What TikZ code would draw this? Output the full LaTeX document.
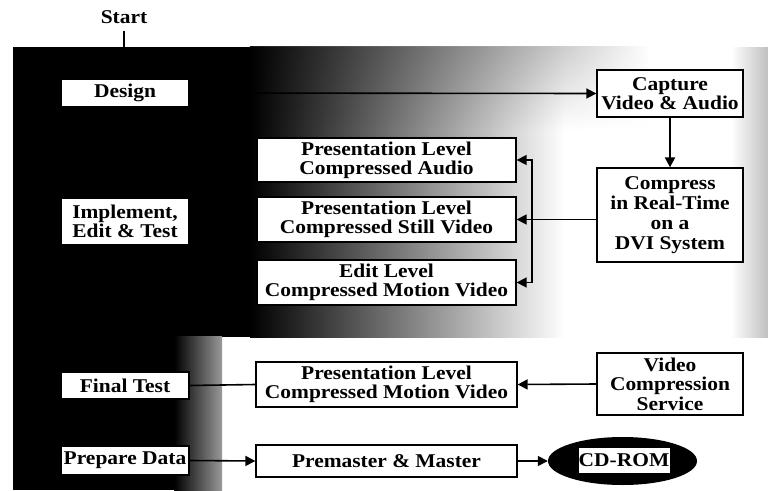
\documentclass[tikz,border=0pt]{standalone}
\usepackage{fontspec}
\setmainfont{Liberation Serif}[FakeStretch=1.1]
\usetikzlibrary{arrows.meta,shapes.geometric,fadings}

% vertical fade used for the dark band along the top edge
\tikzfading[name=fadedown, top color=transparent!0, bottom color=transparent!100]

\newcommand\labelfont[1]{\fontsize{19.5}{#1}\selectfont\bfseries}

\tikzset{
  box/.style={draw, fill=white, line width=1.3pt, inner sep=0pt, align=center},
  link/.style={line width=1.6pt},
  arrow/.style={link, -{Triangle[length=10pt,width=10pt]}},
}

\begin{document}
\begin{tikzpicture}[x=1pt,y=-1pt]
\useasboundingbox (0,0) rectangle (768,490);

% ---- background: dark panel fading to white ----
\fill[black] (13,47) rectangle (252,337);
\shade[left color=black, right color=white] (250,47) rectangle (565,337);
\fill[white] (564,47) rectangle (732,337);
\shade[left color=white, right color=black!25] (731,47) rectangle (768,337);
\shade[left color=black, right color=white, path fading=fadedown, opacity=0.9]
  (250,47) rectangle (650,130);
\fill[black] (13,336) rectangle (175,490);
\shade[left color=black, right color=black!40] (174,336) rectangle (222,490);

% ---- start marker ----
\node[font=\labelfont{20}, inner xsep=0pt, inner ysep=7pt] (start) at (124,17) {Start};
\coordinate (panel) at (start.south |- 0,47);
\draw[line width=1.2pt] (start.south) -- (panel);

% ---- phases (left column) ----
\node[box, font=\labelfont{19}, minimum width=128pt, minimum height=28pt] (design) at (125,93) {Design};
\node[box, font=\labelfont{19.5}, minimum width=128pt, minimum height=47pt] (impl) at (125,221.5) {Implement,\\Edit \& Test};
\node[box, font=\labelfont{19}, minimum width=128pt, minimum height=27pt] (final) at (125,385.5) {Final Test};
\node[box, font=\labelfont{19}, minimum width=128pt, minimum height=29pt] (prep) at (125,460.5) {Prepare Data};

% ---- middle column ----
\node[box, font=\labelfont{19}, minimum width=259pt, minimum height=44pt] (audio) at (386.5,160) {Presentation Level\\Compressed Audio};
\node[box, font=\labelfont{19}, minimum width=259pt, minimum height=45pt] (still) at (386.5,219.5) {Presentation Level\\Compressed Still Video};
\node[box, font=\labelfont{19}, minimum width=259pt, minimum height=45pt] (edit) at (386.5,282.5) {Edit Level\\Compressed Motion Video};
\node[box, font=\labelfont{19}, minimum width=261pt, minimum height=45pt] (pmotion) at (386.5,384.5) {Presentation Level\\Compressed Motion Video};
\node[box, font=\labelfont{19}, minimum width=261pt, minimum height=32pt] (premaster) at (386.5,461) {Premaster \& Master};

% ---- right column ----
\node[box, font=\labelfont{19}, minimum width=146pt, minimum height=47pt] (capture) at (670,93.5) {Capture\\Video \& Audio};
\node[box, font=\labelfont{20}, minimum width=146pt, minimum height=94pt] (compress) at (670,215) {Compress\\in Real-Time\\on a\\DVI System};
\node[box, font=\labelfont{19.5}, minimum width=146pt, minimum height=62pt] (vcs) at (670,384) {Video\\Compression\\Service};

% ---- CD-ROM disc ----
\node[ellipse, fill=black, minimum width=149pt, minimum height=48pt, inner sep=0pt] (cd) at (622.5,461) {};
\node[box, line width=0.8pt, font=\labelfont{19}, minimum width=92pt, minimum height=26pt] (cdlabel) at (624,460) {CD-ROM};

% ---- connectors ----
\draw[arrow] (design.east) -- (capture.west);
\draw[arrow, line width=2.2pt] (capture.south) -- (compress.north);
\coordinate (bus) at (532,219.5);
\draw[arrow] (compress.west |- bus) -- (still.east);
\draw[arrow] (bus) |- (audio.east);
\draw[arrow] (bus) |- (edit.east);
\draw[arrow] (vcs.west) -- (pmotion.east);
\draw[link] (final.east) -- (pmotion.west);
\draw[arrow] (prep.east) -- (premaster.west);
\draw[arrow] (premaster.east) -- (cd.west);
\end{tikzpicture}
\end{document}
